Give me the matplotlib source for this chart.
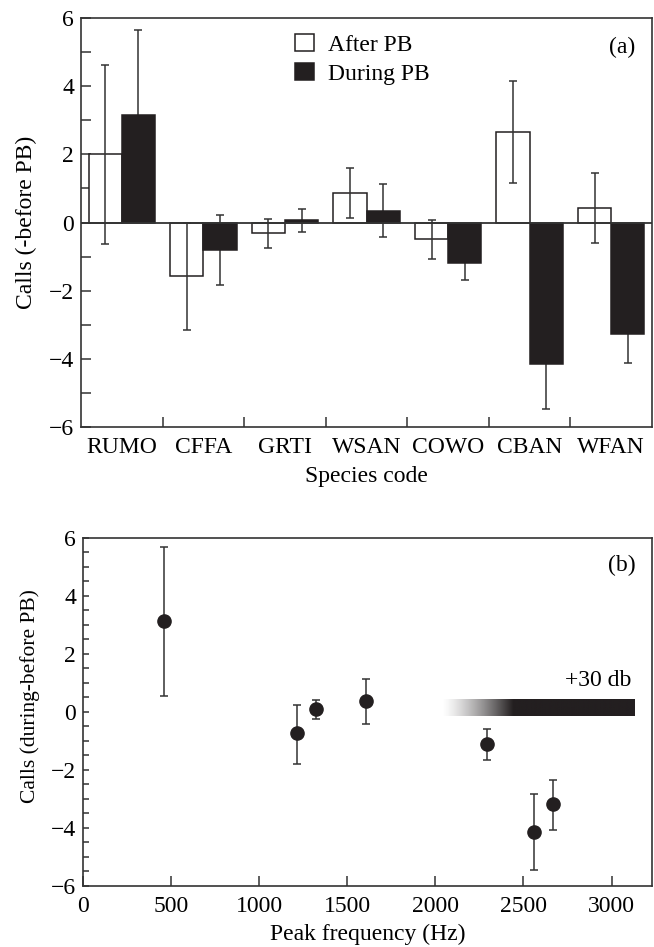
import numpy as np
import matplotlib.pyplot as plt
from matplotlib.patches import Patch
from matplotlib.colors import LinearSegmentedColormap

plt.rcParams['font.family'] = ['Liberation Serif', 'DejaVu Serif']
plt.rcParams['font.size'] = 17

# (a) cambio de llamadas por especie
especies = ['RUMO', 'CFFA', 'GRTI', 'WSAN', 'COWO', 'CBAN', 'WFAN']
despues = [2.0, -1.58, -0.32, 0.86, -0.49, 2.65, 0.43]
despues_err = [2.63, 1.56, 0.42, 0.73, 0.57, 1.5, 1.02]
durante = [3.14, -0.8, 0.06, 0.35, -1.19, -4.16, -3.27]
durante_err = [2.52, 1.02, 0.34, 0.77, 0.49, 1.32, 0.85]

# (b) cambio vs frecuencia pico
frecuencia = [459, 1213, 1323, 1608, 2294, 2560, 2668]
cambio = [3.15, -0.72, 0.1, 0.36, -1.12, -4.13, -3.18]
cambio_err_bajo = [2.6, 1.07, 0.35, 0.76, 0.53, 1.32, 0.9]
cambio_err_alto = [2.55, 0.96, 0.31, 0.77, 0.52, 1.3, 0.83]

# banda de ruido del playback
ruido_inicio = 2035
ruido_lleno = 2440
ruido_fin = 3130
ruido_texto = '+30 db'

negro = '#231f20'
gris = '#333333'

fig = plt.figure(figsize=(6.54, 9.47), dpi=100)
ax1 = fig.add_axes([0.124, 0.549, 0.873, 0.432])
ax2 = fig.add_axes([0.127, 0.0645, 0.870, 0.3675])

# ---- panel (a)
x = np.arange(len(especies))
ancho = 0.407
ax1.bar(x - ancho / 2, despues, ancho, color='white', edgecolor=negro, linewidth=1.1, zorder=2)
ax1.bar(x + ancho / 2, durante, ancho, color=negro, edgecolor=negro, linewidth=1.1, zorder=2)
ax1.errorbar(x - ancho / 2, despues, yerr=despues_err, fmt='none', ecolor=gris,
             elinewidth=1.1, capsize=3, capthick=1.1, zorder=3)
ax1.errorbar(x + ancho / 2, durante, yerr=durante_err, fmt='none', ecolor=gris,
             elinewidth=1.1, capsize=3, capthick=1.1, zorder=1)
ax1.axhline(0, color=gris, linewidth=1.3, zorder=4)
ax1.set_xlim(-0.5, len(especies) - 0.5)
ax1.set_ylim(-6, 6)
ax1.set_yticks(range(-6, 7, 2))
ax1.set_yticks(range(-5, 6, 2), minor=True)
ax1.set_xticks(x)
ax1.set_xticklabels(especies)
ax1.set_xticks(x[:-1] + 0.5, minor=True)
ax1.tick_params(axis='x', which='major', length=0, pad=7)
ax1.tick_params(axis='x', which='minor', direction='in', length=7, width=1.1, color=gris)
ax1.tick_params(axis='y', which='both', direction='in', length=7, width=1.1, color=gris, pad=5)
ax1.set_xlabel('Species code', labelpad=6)
ax1.set_ylabel('Calls (-before PB)')
ax1.yaxis.set_label_coords(-0.077, 0.5)
ax1.text(0.971, 0.927, '(a)', transform=ax1.transAxes, ha='right', va='center')
manijas = [Patch(facecolor='white', edgecolor=negro, linewidth=1.1),
           Patch(facecolor=negro, edgecolor=negro, linewidth=1.1)]
ax1.legend(manijas, ['After PB', 'During PB'], loc='upper left', bbox_to_anchor=(0.375, 0.962),
           frameon=False, handlelength=0.78, handleheight=0.78, handletextpad=0.6,
           labelspacing=0.3, borderpad=0, borderaxespad=0)

# ---- panel (b)
ax2.errorbar(frecuencia, cambio, yerr=[cambio_err_bajo, cambio_err_alto], fmt='o',
             color=negro, ecolor=gris, markersize=9.5, elinewidth=1.1, capsize=3, capthick=1.1)
cmap = LinearSegmentedColormap.from_list('ruido', ['white', negro])
xs = np.linspace(ruido_inicio, ruido_fin, 400)
grad = np.clip((xs - ruido_inicio) / (ruido_lleno - ruido_inicio), 0, 1) ** 1.3
ax2.imshow(grad[np.newaxis, :], cmap=cmap, aspect='auto', vmin=0, vmax=1,
           extent=[ruido_inicio, ruido_fin, -0.13, 0.45], zorder=1)
ax2.text(3113, 1.1, ruido_texto, ha='right', va='center')
ax2.text(0.972, 0.92, '(b)', transform=ax2.transAxes, ha='right', va='center')
ax2.set_xlim(0, 3230)
ax2.set_ylim(-6, 6)
ax2.set_xticks(range(0, 3001, 500))
ax2.set_yticks(range(-6, 7, 2))
ax2.set_yticks(np.arange(-5.5, 6, 0.5), minor=True)
ax2.tick_params(axis='x', which='major', direction='in', length=7, width=1.1, color=gris, pad=7)
ax2.tick_params(axis='y', which='both', direction='in', length=4, width=1.1, color=gris, pad=5)
ax2.set_xlabel('Peak frequency (Hz)', labelpad=5)
ax2.set_ylabel('Calls (during-before PB)', fontsize=15.5)
ax2.yaxis.set_label_coords(-0.076, 0.546)

for ax in (ax1, ax2):
    for s in ax.spines.values():
        s.set_color(gris)
        s.set_linewidth(1.2)

fig.savefig('out.png', dpi=100)
